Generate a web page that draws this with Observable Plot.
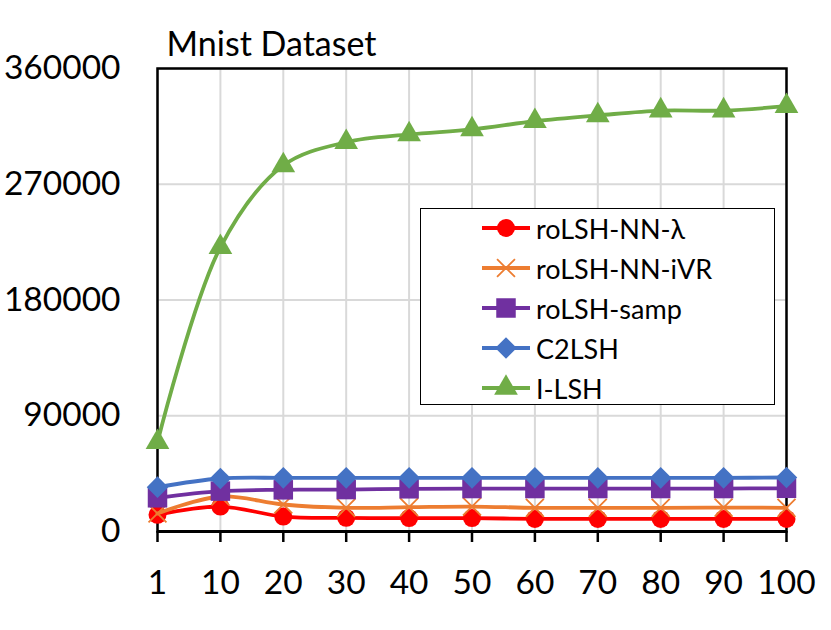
<!DOCTYPE html>
<html>
<head>
<meta charset="utf-8">
<script src="https://cdn.jsdelivr.net/npm/d3@7"></script>
<script src="https://cdn.jsdelivr.net/npm/@observablehq/plot@0.6"></script>
<style>
  html, body { margin: 0; padding: 0; background: #fff; overflow: hidden; }
  #wrap { position: relative; width: 831px; height: 630px; font-family: Lato, "Open Sans", sans-serif; }
  #legend { position: absolute; left: 420px; top: 208px; width: 353px; height: 195px;
            border: 1.5px solid #000; background: #fff; }
  .row { position: absolute; left: 60px; height: 30px; display: flex; align-items: center; }
  .row span { font-size: 27px; color: #000; margin-left: 5px; white-space: nowrap; }
</style>
</head>
<body>
<div id="wrap"></div>
<script>
const xLabels = ["1","10","20","30","40","50","60","70","80","90","100"];
const seriesNames = ["roLSH-NN-λ","roLSH-NN-iVR","roLSH-samp","C2LSH","I-LSH"];
const seriesColors = ["#FF0000","#ED7D31","#7030A0","#4472C4","#70AD47"];
const seriesSymbols = ["circle","times","square","diamond2","triangle"];
const seriesR = [9, 8.2, 11, 9.7, 8.8];
const yTicks = [0, 90000, 180000, 270000, 360000];
const title = "Mnist Dataset";

const rolshNNLambda = [13000, 19400, 11600, 10600, 10400, 10400, 9800, 9800, 9800, 9800, 9800];
const rolshNNiVR    = [14000, 27200, 21000, 18400, 18900, 19400, 18400, 18400, 18400, 18600, 18400];
const rolshSamp     = [26200, 31400, 32400, 32600, 33200, 33400, 33400, 33400, 33400, 33400, 33600];
const c2lsh         = [34500, 41200, 41700, 41700, 41700, 41700, 41700, 41700, 41700, 41700, 42000];
const ilsh          = [69400, 221000, 284600, 302700, 308700, 312600, 319000, 323500, 327300, 327300, 330700];

const allSeries = [rolshNNLambda, rolshNNiVR, rolshSamp, c2lsh, ilsh];
const data = allSeries.flatMap((vals, si) =>
  vals.map((v, i) => ({x: xLabels[i], y: v, s: seriesNames[si], si})));

const marks = [
  Plot.gridY(yTicks, {stroke: "#d9d9d9", strokeOpacity: 1, strokeWidth: 2}),
  Plot.gridX(xLabels, {stroke: "#d9d9d9", strokeOpacity: 1, strokeWidth: 2}),
  Plot.frame({stroke: "#000", strokeWidth: 2.5}),
  Plot.axisY(yTicks, {tickSize: 0, tickPadding: 37, tickFormat: d => String(d), fontSize: 33.5, fill: "#000", label: null}),
  Plot.axisX(xLabels, {tickSize: 11, tickPadding: 28, fontSize: 33.5, stroke: "#000", strokeWidth: 2.5, fill: "#000", label: null}),
  Plot.ruleY([0], {stroke: "#000", strokeWidth: 3}),
];
seriesNames.forEach((name, si) => {
  const d = data.filter(r => r.si === si);
  marks.push(Plot.line(d, {x: "x", y: "y", stroke: seriesColors[si], strokeWidth: 3.8, curve: "catmull-rom"}));
  if (seriesSymbols[si] === "times") {
    marks.push(Plot.dot(d, {x: "x", y: "y", symbol: "times", r: seriesR[si], stroke: seriesColors[si], strokeWidth: 1.8}));
  } else {
    marks.push(Plot.dot(d, {x: "x", y: "y", symbol: seriesSymbols[si], r: seriesR[si], fill: seriesColors[si], stroke: "none"}));
  }
});
marks.push(Plot.text([title], {frameAnchor: "top-left", dx: 9, dy: -37, textAnchor: "start", fontSize: 34, fill: "#000"}));

const chart = Plot.plot({
  width: 831, height: 630,
  marginLeft: 157, marginRight: 45, marginTop: 68, marginBottom: 99,
  style: {fontFamily: "Lato, 'Open Sans', sans-serif", background: "#fff", overflow: "visible"},
  x: {type: "point", domain: xLabels, padding: 0, round: false, label: null},
  y: {domain: [0, 360000], label: null},
  marks
});
const wrap = document.getElementById("wrap");
wrap.appendChild(chart);

// Legend (HTML overlay) built from the same arrays
const legend = document.createElement("div");
legend.id = "legend";
seriesNames.forEach((name, si) => {
  const row = document.createElement("div");
  row.className = "row";
  row.style.top = (4 + si * 40) + "px";
  const sw = d3.create("svg").attr("width", 50).attr("height", 30);
  sw.append("line").attr("x1", 1).attr("x2", 49).attr("y1", 15).attr("y2", 15)
    .attr("stroke", seriesColors[si]).attr("stroke-width", 3.8);
  const symMap = {circle: d3.symbolCircle, times: d3.symbolTimes, square: d3.symbolSquare, diamond2: d3.symbolDiamond2, triangle: d3.symbolTriangle};
  const size = Math.PI * seriesR[si] * seriesR[si];
  const p = sw.append("path").attr("transform", "translate(25,15)")
    .attr("d", d3.symbol(symMap[seriesSymbols[si]], size)());
  if (seriesSymbols[si] === "times") p.attr("fill", "none").attr("stroke", seriesColors[si]).attr("stroke-width", 1.8);
  else p.attr("fill", seriesColors[si]);
  row.appendChild(sw.node());
  const t = document.createElement("span");
  t.textContent = name;
  row.appendChild(t);
  legend.appendChild(row);
});
wrap.appendChild(legend);
</script>
</body>
</html>
